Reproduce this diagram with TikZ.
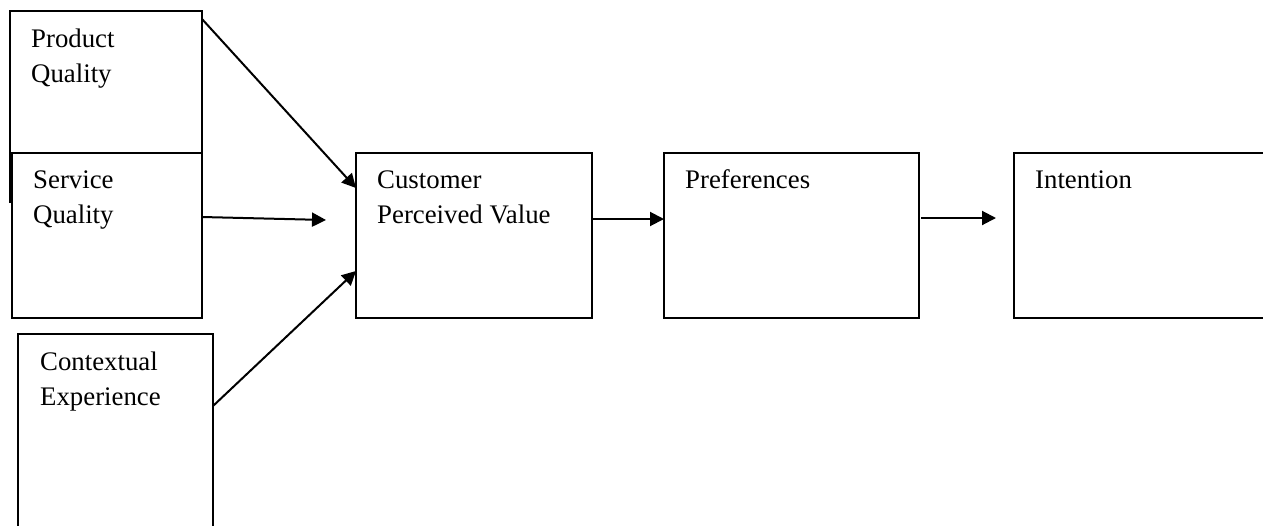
\documentclass[tikz,border=0pt]{standalone}
\usepackage{fontspec}
\setmainfont{Liberation Serif}
\usetikzlibrary{arrows.meta,calc}
\begin{document}
\begin{tikzpicture}[x=1pt,y=-1pt,
  box/.style={draw=black,line width=2pt,fill=white,inner sep=0pt,outer sep=0pt,anchor=north west},
  lbl/.style={anchor=base west,inner sep=0pt,font=\fontsize{26.8}{35}\selectfont},
  arr/.style={line width=2pt,-{Triangle[length=14pt,width=14pt]}}]
\useasboundingbox (0,0) rectangle (1263,525);
\clip (0,0) rectangle (1263,525);
% boxes
\node[box,minimum width=192pt,minimum height=191pt] (prod) at (10,11) {};
\node[box,minimum width=190pt,minimum height=165pt] (serv) at (12,153) {};
\node[box,minimum width=195pt,minimum height=210pt] (ctx) at (18,334) {};
\node[box,minimum width=236pt,minimum height=165pt] (cpv) at (356,153) {};
\node[box,minimum width=255pt,minimum height=165pt] (pref) at (664,153) {};
\node[box,minimum width=260pt,minimum height=165pt] (int) at (1014,153) {};
% labels
\node[lbl] (prodA) at ($(prod.north west)+(21,36)$) {Product};
\node[lbl] (prodB) at ($(prodA.base west)+(0,35)$) {Quality};
\node[lbl] (servA) at ($(serv.north west)+(21,35)$) {Service};
\node[lbl] (servB) at ($(servA.base west)+(0,35)$) {Quality};
\node[lbl] (ctxA) at ($(ctx.north west)+(22,36)$) {Contextual};
\node[lbl] (ctxB) at ($(ctxA.base west)+(0,35)$) {Experience};
\node[lbl] (cpvA) at ($(cpv.north west)+(21,35)$) {Customer};
\node[lbl] (cpvB) at ($(cpvA.base west)+(0,35)$) {Perceived Value};
\node[lbl] (prefA) at ($(pref.north west)+(21,35)$) {Preferences};
\node[lbl] (intA) at ($(int.north west)+(21,35)$) {Intention};
% connector ends
\coordinate (servEnd) at (326,220);
\coordinate (prefOut) at (921,218);
\coordinate (intIn) at (996,218);
% arrows
\draw[arr] ($(prod.north east)+(0,8)$) -- ($(cpv.north west)+(0,35)$);
\draw[arr] ($(serv.north east)+(0,64)$) -- (servEnd);
\draw[arr] ($(ctx.north west)+(195,72)$) -- ($(cpv.north west)+(0,118)$);
\draw[arr] ($(cpv.north east)+(0,66)$) -- ($(pref.north west)+(0,66)$);
\draw[arr] (prefOut) -- (intIn);
\end{tikzpicture}
\end{document}
